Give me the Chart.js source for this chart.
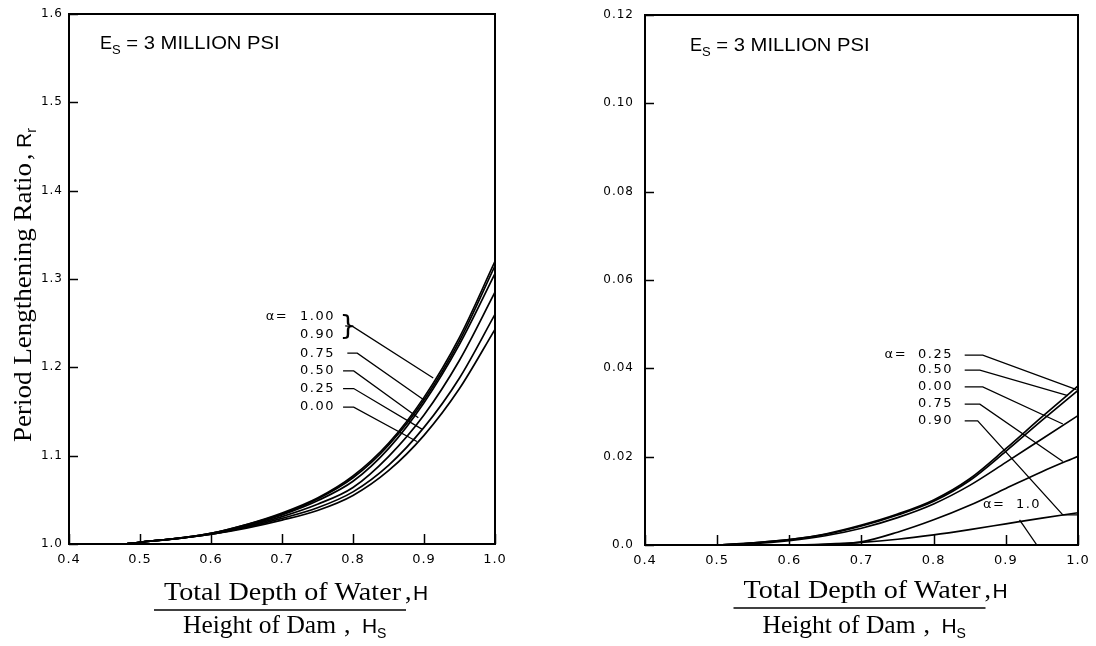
<!DOCTYPE html>
<html><head><meta charset="utf-8">
<script src="https://cdn.jsdelivr.net/npm/chart.js@4.4.0/dist/chart.umd.min.js"></script>
<style>
html,body{margin:0;padding:0;background:#fff;}
#wrap{position:relative;width:1096px;height:646px;overflow:hidden;background:#fff;}
.box{position:absolute;top:0;width:548px;height:646px;}
canvas{display:block;}
</style></head><body>
<div id="wrap">
<div class="box" style="left:0"><canvas id="c1" width="548" height="646"></canvas></div>
<div class="box" style="left:548px"><canvas id="c2" width="548" height="646"></canvas></div>
</div>
<script>
// ---------- tick values / labels ----------
const xTicks = [0.4, 0.5, 0.6, 0.7, 0.8, 0.9, 1.0];
const xTickLabels = ['0.4', '0.5', '0.6', '0.7', '0.8', '0.9', '1.0'];
const yTicksL = [1.0, 1.1, 1.2, 1.3, 1.4, 1.5, 1.6];
const yTickLabelsL = ['1.0', '1.1', '1.2', '1.3', '1.4', '1.5', '1.6'];
const yTicksR = [0, 0.02, 0.04, 0.06, 0.08, 0.10, 0.12];
const yTickLabelsR = ['0.0', '0.02', '0.04', '0.06', '0.08', '0.10', '0.12'];

// ---------- left chart: period lengthening ratio Rr ----------
const xR = [0.48, 0.5, 0.55, 0.6, 0.65, 0.7, 0.75, 0.8, 0.85, 0.9, 0.95, 1.0];
const rA100 = [1.000, 1.002, 1.006, 1.012, 1.022, 1.035, 1.052, 1.077, 1.114, 1.166, 1.234, 1.320];
const rA090 = [1.000, 1.002, 1.006, 1.012, 1.022, 1.034, 1.051, 1.075, 1.112, 1.163, 1.230, 1.315];
const rA075 = [1.000, 1.002, 1.006, 1.012, 1.021, 1.033, 1.049, 1.071, 1.108, 1.160, 1.226, 1.306];
const rA050 = [1.000, 1.002, 1.006, 1.011, 1.020, 1.031, 1.045, 1.064, 1.099, 1.146, 1.208, 1.285];
const rA025 = [1.000, 1.002, 1.006, 1.011, 1.019, 1.029, 1.041, 1.059, 1.089, 1.132, 1.188, 1.260];
const rA000 = [1.000, 1.002, 1.006, 1.011, 1.018, 1.027, 1.038, 1.055, 1.083, 1.123, 1.176, 1.243];
const alphaLabelsL = ['1.00', '0.90', '0.75', '0.50', '0.25', '0.00'];
// leader lines (data coordinates)
const leadL100 = [[0.789, 1.247], [0.800, 1.246], [0.913, 1.188]];
const leadL075 = [[0.792, 1.216], [0.806, 1.216], [0.900, 1.163]];
const leadL050 = [[0.786, 1.196], [0.801, 1.196], [0.892, 1.143]];
const leadL025 = [[0.786, 1.176], [0.801, 1.176], [0.897, 1.130]];
const leadL000 = [[0.786, 1.155], [0.801, 1.155], [0.890, 1.116]];

// ---------- right chart: added damping ratio ----------
const xD = [0.5, 0.55, 0.6, 0.65, 0.7, 0.75, 0.8, 0.85, 0.9, 0.95, 1.0];
const dA025 = [0, 0.0005, 0.0012, 0.0025, 0.0045, 0.0070, 0.0102, 0.0150, 0.0218, 0.0290, 0.0360];
const dA050 = [0, 0.0005, 0.0012, 0.0024, 0.0043, 0.0068, 0.0099, 0.0146, 0.0212, 0.0282, 0.0350];
const dA000 = [0, 0.0003, 0.0010, 0.0021, 0.0038, 0.0062, 0.0093, 0.0135, 0.0187, 0.0240, 0.0293];
const dA075 = [0, 0, 0, 0.0001, 0.0007, 0.0029, 0.0057, 0.0090, 0.0128, 0.0166, 0.0201];
const dA090 = [0, 0, 0, 0.0002, 0.0006, 0.0013, 0.0023, 0.0035, 0.0048, 0.0061, 0.0073];
const dA100 = [0, 0, 0, 0, 0, 0, 0, 0, 0, 0, 0];
const alphaLabelsR = ['0.25', '0.50', '0.00', '0.75', '0.90'];
const leadR025 = [[0.843, 0.0430], [0.868, 0.0430], [0.998, 0.0352]];
const leadR050 = [[0.843, 0.0396], [0.864, 0.0396], [0.986, 0.0338]];
const leadR000 = [[0.843, 0.0358], [0.868, 0.0358], [0.979, 0.0274]];
const leadR075 = [[0.843, 0.0319], [0.864, 0.0319], [0.979, 0.0189]];
const leadR090 = [[0.843, 0.0281], [0.861, 0.0281], [0.979, 0.0068], [1.0, 0.0068]];
const leadR100 = [[0.919, 0.0057], [0.943, 0]];

// ---------- helpers ----------
const curve = (xs, ys) => ({
  data: xs.map((x, i) => ({ x: x, y: ys[i] })),
  borderColor: '#000', borderWidth: 1.7, pointRadius: 0, fill: false,
  cubicInterpolationMode: 'monotone'
});
const leader = (pts) => ({
  data: pts.map(p => ({ x: p[0], y: p[1] })),
  borderColor: '#000', borderWidth: 1.3, pointRadius: 0, fill: false, tension: 0
});

function fitText(ctx, text, x, y, w) {
  const m = ctx.measureText(text).width;
  ctx.save(); ctx.translate(x, y); ctx.scale(w / m, 1); ctx.textAlign = 'left';
  ctx.fillText(text, 0, 0); ctx.restore();
}

function makeDecor(spec) {
  return {
    id: 'decor',
    beforeLayout(chart) { chart.ctx.letterSpacing = '1px'; },
    beforeDraw(chart) {
      const c = chart.ctx; c.save(); c.fillStyle = '#fff'; c.fillRect(0, 0, chart.width, chart.height); c.restore();
      c.letterSpacing = '1px';
    },
    afterDraw(chart) {
      const ctx = chart.ctx, a = chart.chartArea, xs = chart.scales.x, ys = chart.scales.y;
      ctx.save();
      ctx.letterSpacing = '0px';
      ctx.strokeStyle = '#000'; ctx.fillStyle = '#000';
      ctx.lineWidth = 2;
      ctx.strokeRect(a.left, a.top, a.right - a.left, a.bottom - a.top);
      ctx.lineWidth = 1.5;
      xTicks.forEach(v => {
        const p = Math.round(xs.getPixelForValue(v)) + 0.5;
        ctx.beginPath(); ctx.moveTo(p, a.bottom); ctx.lineTo(p, a.bottom - 10); ctx.stroke();
      });
      spec.yTicks.forEach(v => {
        const p = Math.round(ys.getPixelForValue(v)) + 0.5;
        ctx.beginPath(); ctx.moveTo(a.left, p); ctx.lineTo(a.left + 9, p); ctx.stroke();
      });
      // alpha labels
      ctx.font = '13px "DejaVu Sans"'; ctx.letterSpacing = '1.5px';
      ctx.textBaseline = 'middle'; ctx.textAlign = 'left';
      spec.labels.forEach(l => ctx.fillText(l.t, xs.getPixelForValue(l.x), ys.getPixelForValue(l.y)));
      if (spec.brace) {
        ctx.letterSpacing = '0px';
        ctx.font = '27px "DejaVu Sans"';
        ctx.fillText('}', xs.getPixelForValue(spec.brace.x), ys.getPixelForValue(spec.brace.y) + 1);
      }
      ctx.letterSpacing = '0px';
      ctx.textBaseline = 'alphabetic';
      // E_S label
      let ex = a.left + spec.es.dx, ey = a.top + spec.es.dy;
      ctx.font = '18px "Liberation Sans"';
      ctx.fillText('E', ex, ey);
      ex += ctx.measureText('E').width;
      ctx.font = '13px "Liberation Sans"';
      ctx.fillText('S', ex, ey + 5);
      ex += ctx.measureText('S').width;
      ctx.font = '18px "Liberation Sans"';
      fitText(ctx, ' = 3 MILLION PSI', ex, ey, spec.es.w);
      // x title (fraction)
      const cx = (a.left + a.right) / 2;
      ctx.font = '26px "Liberation Serif"';
      fitText(ctx, 'Total Depth of Water', cx - 118, spec.xt.b1, 237);
      ctx.fillText(',', cx + 123, spec.xt.b1);
      ctx.font = '21px "Liberation Sans"';
      ctx.fillText('H', cx + 131, spec.xt.b1);
      ctx.lineWidth = 1.5;
      ctx.beginPath(); ctx.moveTo(cx - 128, spec.xt.u); ctx.lineTo(cx + 124, spec.xt.u); ctx.stroke();
      ctx.font = '26px "Liberation Serif"';
      fitText(ctx, 'Height of Dam', cx - 99, spec.xt.b2, 153);
      ctx.fillText(',', cx + 62, spec.xt.b2);
      ctx.font = '21px "Liberation Sans"';
      ctx.fillText('H', cx + 80, spec.xt.b2);
      ctx.font = '14px "Liberation Sans"';
      ctx.fillText('S', cx + 95, spec.xt.b2 + 5);
      // y title (rotated)
      ctx.save();
      ctx.translate(spec.yt.x, spec.yt.y0);
      ctx.rotate(-Math.PI / 2);
      ctx.font = '26px "Liberation Serif"';
      fitText(ctx, spec.yt.text, 0, 0, spec.yt.w);
      let p = spec.yt.w + 3;
      ctx.fillText(',', p, 0); p += 12;
      if (spec.yt.sym === 'R') {
        ctx.font = '21px "Liberation Sans"'; ctx.fillText('R', p, 0); p += ctx.measureText('R').width;
      } else {
        ctx.font = 'italic 24px "Liberation Serif"'; ctx.fillText('ξ', p, 0); p += ctx.measureText('ξ').width;
      }
      ctx.font = '14px "Liberation Sans"'; ctx.fillText('r', p, 5);
      ctx.restore();
      ctx.restore();
    }
  };
}

function makeChart(id, datasets, yMin, yMax, yTicks, yLabels, lay, spec) {
  return new Chart(document.getElementById(id), {
    type: 'line',
    data: { datasets: datasets },
    options: {
      responsive: false, animation: false, devicePixelRatio: 1,
      layout: { padding: { left: 0, right: lay.padR, top: lay.padT, bottom: lay.padB } },
      plugins: { legend: { display: false }, tooltip: { enabled: false } },
      elements: { point: { radius: 0 } },
      scales: {
        x: {
          type: 'linear', min: 0.4, max: 1.0,
          afterBuildTicks: s => { s.ticks = xTicks.map(v => ({ value: v })); },
          ticks: { callback: (v, i) => xTickLabels[i], font: { family: 'DejaVu Sans', size: 13 }, color: '#000', padding: 8, maxRotation: 0, autoSkip: false },
          grid: { display: false, drawTicks: false }, border: { display: false },
          afterFit: s => { s.height = lay.xH; s.paddingLeft = 0; s.paddingRight = 0; }
        },
        y: {
          type: 'linear', min: yMin, max: yMax,
          afterBuildTicks: s => { s.ticks = yTicks.map(v => ({ value: v })); },
          ticks: { callback: (v, i) => yLabels[i], font: { family: 'DejaVu Sans', size: 12 }, color: '#000', padding: lay.yPad, autoSkip: false },
          grid: { display: false, drawTicks: false }, border: { display: false },
          afterFit: s => { s.width = lay.yW; s.paddingTop = 0; s.paddingBottom = 0; }
        }
      }
    },
    plugins: [makeDecor(spec)]
  });
}

const dsL = [rA100, rA090, rA075, rA050, rA025, rA000].map(a => curve(xR, a))
  .concat([leadL100, leadL075, leadL050, leadL025, leadL000].map(leader));
const labelsL = [{ t: 'α=', x: 0.677, y: 1.257 }].concat(
  alphaLabelsL.map((t, i) => ({ t: t, x: 0.7254, y: [1.257, 1.237, 1.216, 1.196, 1.176, 1.155][i] })));

makeChart('c1', dsL, 1.0, 1.6, yTicksL, yTickLabelsL,
  { padR: 53, padT: 14, padB: 72, xH: 30, yW: 69, yPad: 6 },
  { yTicks: yTicksL, labels: labelsL, brace: { x: 0.781, y: 1.247 },
    es: { dx: 31, dy: 35, w: 159 },
    xt: { b1: 600, u: 610, b2: 633 },
    yt: { x: 31, y0: 442, w: 279, text: 'Period Lengthening Ratio', sym: 'R' } });

const dsR = [dA025, dA050, dA000, dA075, dA090, dA100].map(a => curve(xD, a))
  .concat([leadR025, leadR050, leadR000, leadR075, leadR090, leadR100].map(leader));
const labelsR = [{ t: 'α=', x: 0.732, y: 0.0430 }].concat(
  alphaLabelsR.map((t, i) => ({ t: t, x: 0.7783, y: [0.0430, 0.0396, 0.0358, 0.0319, 0.0281][i] })),
  [{ t: 'α=', x: 0.8684, y: 0.0091 }, { t: '1.0', x: 0.914, y: 0.0091 }]);

makeChart('c2', dsR, 0, 0.12, yTicksR, yTickLabelsR,
  { padR: 18, padT: 15, padB: 71, xH: 30, yW: 97, yPad: 11 },
  { yTicks: yTicksR, labels: labelsR, brace: null,
    es: { dx: 45, dy: 36, w: 159 },
    xt: { b1: 598, u: 608, b2: 633 },
    yt: { x: 586, y0: 452, w: 262, text: 'Added Damping Ratio', sym: 'xi' } });
</script>
</body></html>
